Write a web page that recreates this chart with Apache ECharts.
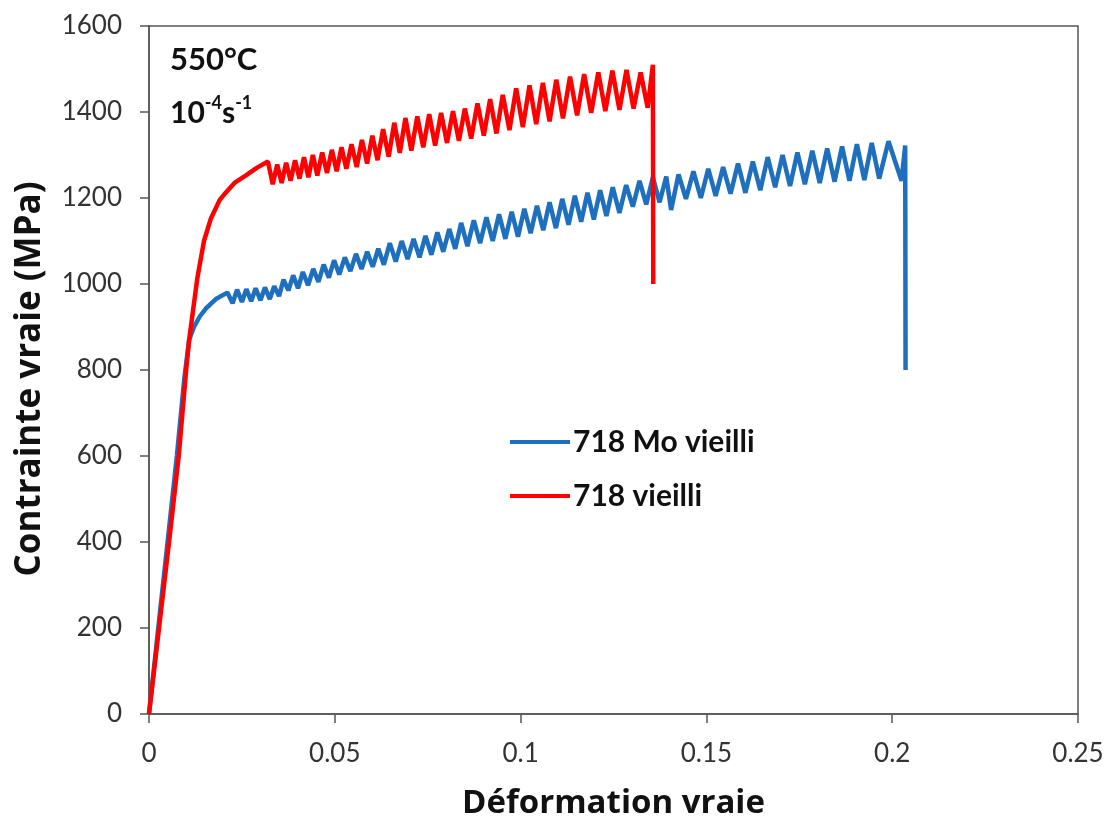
<!DOCTYPE html>
<html>
<head>
<meta charset="utf-8">
<script src="https://cdn.jsdelivr.net/npm/echarts@6/dist/echarts.min.js"></script>
<style>
html,body{margin:0;padding:0;background:#fff;}
#c{width:1109px;height:825px;}
</style>
</head>
<body>
<div id="c"></div>
<script>
const xTicks = [0, 0.05, 0.1, 0.15, 0.2, 0.25];
const yTicks = [0, 200, 400, 600, 800, 1000, 1200, 1400, 1600];
const seriesNames = ['718 Mo vieilli', '718 vieilli'];

const blueStrain = [0,0.0025,0.005,0.0075,0.0095,0.0108,0.0121,0.0137,0.0153,0.018,0.0211,
0.0225,0.0237,0.0250,0.0262,0.0275,0.0287,0.0300,0.0312,0.0325,0.0337,0.0350,0.0362,0.0375,0.0388,0.0401,0.0414,0.0428,0.0442,0.0456,0.0470,
0.0484,0.0498,0.0512,0.0527,0.0542,0.0557,0.0572,0.0587,0.0602,0.0617,0.0632,0.0648,0.0664,0.0680,0.0696,0.0712,0.0728,0.0744,0.0760,0.0776,
0.0792,0.0808,0.0824,0.0840,0.0857,0.0874,0.0891,0.0908,0.0925,0.0942,0.0959,0.0976,0.0993,0.1010,0.1027,0.1044,0.1061,0.1078,0.1095,0.1112,
0.1129,0.1146,0.1163,0.1180,0.1197,0.1214,0.1231,0.1248,0.1266,0.1284,0.1302,0.1320,0.1338,0.1356,0.1374,0.1392,0.1405,0.1425,0.1445,0.1465,
0.1485,0.1505,0.1525,0.1545,0.1565,0.1585,0.1605,0.1625,0.1645,0.1665,0.1685,0.1705,0.1725,0.1745,0.1765,0.1785,0.1805,0.1825,0.1845,0.1865,
0.1885,0.1905,0.1925,0.1945,0.1965,0.1990,0.2025,0.2035,0.2036];
const blueStress = [0,200,400,600,780,870,900,925,943,965,980,
955,987,958,988,960,990,962,992,965,995,972,1010,985,1020,990,1028,997,1035,1005,1045,
1015,1055,1022,1062,1030,1070,1035,1075,1040,1082,1045,1095,1052,1100,1058,1105,1062,1112,1068,1120,
1075,1128,1082,1142,1088,1148,1095,1155,1100,1162,1105,1168,1110,1175,1118,1182,1125,1190,1130,1198,
1138,1205,1145,1212,1150,1218,1158,1225,1165,1230,1180,1240,1185,1248,1190,1250,1172,1255,1198,1262,
1200,1268,1205,1272,1210,1280,1212,1285,1218,1295,1225,1300,1228,1306,1232,1310,1235,1315,1238,1320,
1240,1325,1242,1328,1245,1332,1240,1322,800];

const redStrain = [0,0.0027,0.0054,0.008,0.0100,0.0108,0.0130,0.0148,0.0166,0.0190,0.0207,0.0230,0.0260,0.0290,
0.0320,0.0333,0.0345,0.0357,0.0369,0.0381,0.0393,0.0405,0.0417,0.0429,0.0441,0.0453,0.0466,0.0479,0.0492,0.0505,
0.0518,0.0531,0.0545,0.0559,0.0573,0.0587,0.0601,0.0615,0.0630,0.0645,0.0660,0.0675,0.0690,0.0706,0.0722,0.0738,
0.0754,0.0770,0.0786,0.0802,0.0818,0.0834,0.0850,0.0867,0.0884,0.0901,0.0918,0.0935,0.0952,0.0970,0.0988,0.1006,
0.1024,0.1042,0.1060,0.1078,0.1096,0.1114,0.1133,0.1152,0.1171,0.1190,0.1209,0.1228,0.1247,0.1266,0.1285,0.1304,
0.1323,0.1342,0.1356,0.1357];
const redStress = [0,200,400,600,800,870,1013,1100,1151,1195,1213,1235,1252,1270,
1285,1232,1278,1235,1282,1240,1288,1245,1295,1248,1300,1252,1306,1258,1312,1262,
1318,1268,1325,1272,1335,1280,1345,1288,1360,1296,1375,1305,1386,1310,1390,1318,
1395,1322,1398,1328,1402,1333,1408,1338,1420,1345,1430,1350,1440,1358,1455,1365,
1462,1372,1468,1378,1475,1385,1482,1392,1488,1398,1492,1402,1496,1405,1498,1408,
1492,1410,1510,1000];

function pairs(xs, ys){ return xs.map((x,i)=>[x, ys[i]]); }

const FONT = 'Lato, "Open Sans", sans-serif';
const TFONT = '"Open Sans", Lato, sans-serif';
const chart = echarts.init(document.getElementById('c'), null, {renderer:'canvas'});
chart.setOption({
  animation:false,
  backgroundColor:'#fff',
  textStyle:{fontFamily:FONT},
  grid:{left:149, right:31, top:26, bottom:107, show:true, borderColor:'#555', borderWidth:1.5, backgroundColor:'transparent'},
  xAxis:{
    type:'value', min:xTicks[0], max:xTicks[xTicks.length-1], interval:0.05,
    name:'Déformation vraie', nameLocation:'middle', nameGap:73,
    nameTextStyle:{fontSize:33, fontWeight:'bold', color:'#111', fontFamily:TFONT},
    axisLine:{show:true, lineStyle:{color:'#555', width:1.5}},
    axisTick:{show:true, inside:false, length:9, lineStyle:{color:'#555', width:1.5}},
    axisLabel:{fontSize:26, color:'#333', margin:27, fontFamily:FONT, formatter:v=>String(+v.toFixed(2))},
    splitLine:{show:false}
  },
  yAxis:{
    type:'value', min:yTicks[0], max:yTicks[yTicks.length-1], interval:200,
    name:'Contrainte vraie (MPa)', nameLocation:'middle', nameGap:101, nameRotate:90,
    nameTextStyle:{fontSize:35, fontWeight:'bold', color:'#111', fontFamily:TFONT, padding:[0,18,0,0]},
    axisLine:{show:true, lineStyle:{color:'#555', width:1.5}},
    axisTick:{show:true, inside:false, length:9, lineStyle:{color:'#555', width:1.5}},
    axisLabel:{fontSize:26, color:'#333', margin:27, fontFamily:FONT, formatter:v=>String(v)},
    splitLine:{show:false}
  },
  legend:{
    orient:'vertical', left:505, top:422, itemWidth:60, itemHeight:4, itemGap:24,
    icon:'rect',
    textStyle:{fontSize:30, fontWeight:'bold', color:'#111', fontFamily:FONT, lineHeight:30, padding:[0,0,0,-2]},
    data:seriesNames
  },
  graphic:[
    {type:'text', left:170, top:44, style:{text:'550°C', font:'bold 31px '+FONT, fill:'#111'}},
    {type:'text', left:170, top:94, style:{
      text:'{b|10}{s|-4}{b|s}{s|-1}',
      rich:{
        b:{fontSize:30, fontWeight:'bold', fill:'#111', fontFamily:FONT, lineHeight:34, verticalAlign:'bottom'},
        s:{fontSize:18, fontWeight:'bold', fill:'#111', fontFamily:FONT, lineHeight:34, verticalAlign:'top', padding:[0,0,12,0]}
      }
    }}
  ],
  series:[
    {name:seriesNames[0], type:'line', showSymbol:false, data:pairs(blueStrain, blueStress),
     lineStyle:{color:'#1F6FBF', width:4.5}, itemStyle:{color:'#1F6FBF'}, z:2},
    {name:seriesNames[1], type:'line', showSymbol:false, data:pairs(redStrain, redStress),
     lineStyle:{color:'#FF0000', width:4.5}, itemStyle:{color:'#FF0000'}, z:3}
  ]
});
</script>
</body>
</html>
